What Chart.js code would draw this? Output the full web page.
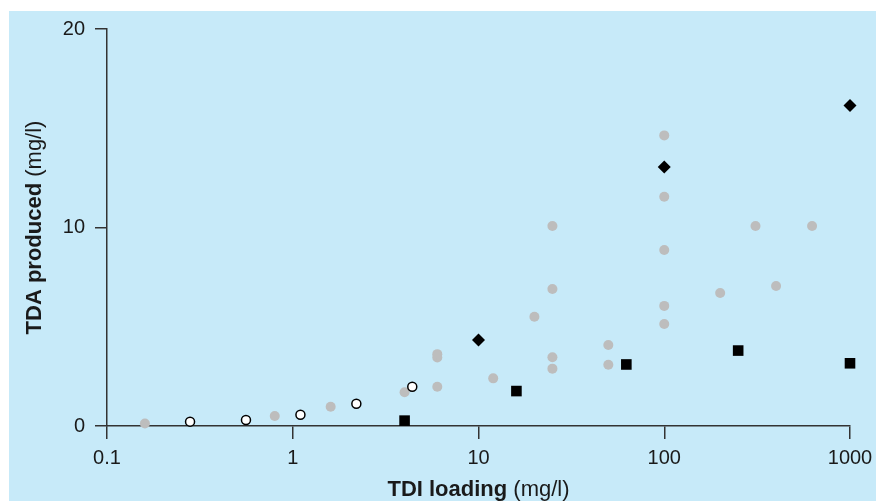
<!DOCTYPE html>
<html>
<head>
<meta charset="utf-8">
<script src="https://cdn.jsdelivr.net/npm/chart.js@4"></script>
<style>
  html, body { margin: 0; padding: 0; background: #fff; }
  #wrap { width: 876px; height: 501px; position: relative; }
</style>
</head>
<body>
<div id="wrap"><canvas id="chart"></canvas></div>
<script>
// x = TDI loading (mg/l), y = TDA produced (mg/l)
const greyX = [0.16, 0.8, 1.6, 4, 6, 6, 6, 12, 20, 25, 25, 25, 25, 50, 50, 100, 100, 100, 100, 100, 200, 310, 400, 625];
const greyY = [0.13, 0.5, 0.97, 1.7, 1.98, 3.45, 3.62, 2.4, 5.5, 10.08, 6.9, 3.46, 2.89, 4.08, 3.09, 14.64, 11.55, 8.87, 6.05, 5.14, 6.7, 10.08, 7.05, 10.08];
const openX = [0.28, 0.56, 1.1, 2.2, 4.4];
const openY = [0.22, 0.3, 0.57, 1.12, 1.98];
const diamondX = [10, 100, 1000];
const diamondY = [4.33, 13.05, 16.14];
const squareX = [4, 16, 62.5, 250, 1000];
const squareY = [0.27, 1.76, 3.1, 3.8, 3.16];

const xTickValues = [0.1, 1, 10, 100, 1000];
const xTickLabels = ["0.1", "1", "10", "100", "1000"];
const yTickLabels = ["0", "10", "20"];

const FONT = "'Liberation Sans', Arial, Helvetica, sans-serif";
const INK = "#1a1a1a";
const AXIS = "#333";

function toPoints(xs, ys) {
    return xs.map(function(x, i) { return { x: x, y: ys[i] }; });
}

// light blue panel behind the chart
const panelBg = {
    id: "panelBg",
    beforeDraw: function(chart) {
        const ctx = chart.ctx;
        ctx.save();
        ctx.fillStyle = "#fff";
        ctx.fillRect(0, 0, chart.width, chart.height);
        ctx.fillStyle = "#c7eaf9";
        ctx.fillRect(9, 11, chart.width - 9, chart.height - 11);
        ctx.restore();
    }
};

// axis titles with a bold part and a normal part
function mixedText(ctx, bold, normal, cx, y) {
    ctx.font = "bold 22px " + FONT;
    const w1 = ctx.measureText(bold).width;
    ctx.font = "22px " + FONT;
    const w2 = ctx.measureText(normal).width;
    let x = cx - (w1 + w2) / 2;
    ctx.textAlign = "left";
    ctx.textBaseline = "alphabetic";
    ctx.fillStyle = INK;
    ctx.font = "bold 22px " + FONT;
    ctx.fillText(bold, x, y);
    ctx.font = "22px " + FONT;
    ctx.fillText(normal, x + w1, y);
}

const axisTitles = {
    id: "axisTitles",
    afterDraw: function(chart) {
        const ctx = chart.ctx;
        const area = chart.chartArea;
        ctx.save();
        mixedText(ctx, "TDI loading", " (mg/l)", (area.left + area.right) / 2, 496);
        ctx.translate(41, (area.top + area.bottom) / 2);
        ctx.rotate(-Math.PI / 2);
        mixedText(ctx, "TDA produced", " (mg/l)", 0, 0);
        ctx.restore();
    }
};

new Chart(document.getElementById("chart"), {
    type: "scatter",
    data: {
        datasets: [
            {
                label: "grey",
                data: toPoints(greyX, greyY),
                pointStyle: "circle",
                pointRadius: 5,
                backgroundColor: "#bdbdbd",
                borderWidth: 0,
                clip: false,
                order: 4
            },
            {
                label: "open",
                data: toPoints(openX, openY),
                pointStyle: "circle",
                pointRadius: 4.5,
                backgroundColor: "#fff",
                borderColor: "#000",
                borderWidth: 1.5,
                clip: false,
                order: 3
            },
            {
                label: "diamond",
                data: toPoints(diamondX, diamondY),
                pointStyle: "rectRot",
                pointRadius: 6.5,
                backgroundColor: "#000",
                borderWidth: 0,
                clip: false,
                order: 2
            },
            {
                label: "square",
                data: toPoints(squareX, squareY),
                pointStyle: "rect",
                pointRadius: 7.5,
                backgroundColor: "#000",
                borderWidth: 0,
                clip: false,
                order: 1
            }
        ]
    },
    options: {
        responsive: true,
        maintainAspectRatio: false,
        animation: false,
        layout: { padding: { left: 0, top: 29, right: 26, bottom: 0 } },
        plugins: {
            legend: { display: false },
            tooltip: { enabled: false }
        },
        scales: {
            x: {
                type: "logarithmic",
                position: "bottom",
                min: 0.1,
                max: 1000,
                afterBuildTicks: function(s) {
                    s.ticks = xTickValues.map(function(v) { return { value: v }; });
                },
                afterFit: function(s) {
                    s.height = 75;
                    s.paddingLeft = 0;
                    s.paddingRight = 0;
                },
                grid: { drawOnChartArea: false, drawTicks: true, tickLength: 13, color: AXIS, lineWidth: 1.5 },
                border: { display: true, color: AXIS, width: 1.5 },
                ticks: {
                    color: INK,
                    font: { family: FONT, size: 20 },
                    padding: 7,
                    maxRotation: 0,
                    autoSkip: false,
                    callback: function(v, i) { return xTickLabels[i]; }
                }
            },
            y: {
                type: "linear",
                min: 0,
                max: 20,
                afterFit: function(s) {
                    s.width = 107;
                    s.paddingTop = 0;
                    s.paddingBottom = 0;
                },
                grid: { drawOnChartArea: false, drawTicks: true, tickLength: 12, color: AXIS, lineWidth: 1.5 },
                border: { display: true, color: AXIS, width: 1.5 },
                ticks: {
                    stepSize: 10,
                    color: INK,
                    font: { family: FONT, size: 20 },
                    padding: 10,
                    callback: function(v, i) { return yTickLabels[i]; }
                }
            }
        }
    },
    plugins: [panelBg, axisTitles]
});
</script>
</body>
</html>
